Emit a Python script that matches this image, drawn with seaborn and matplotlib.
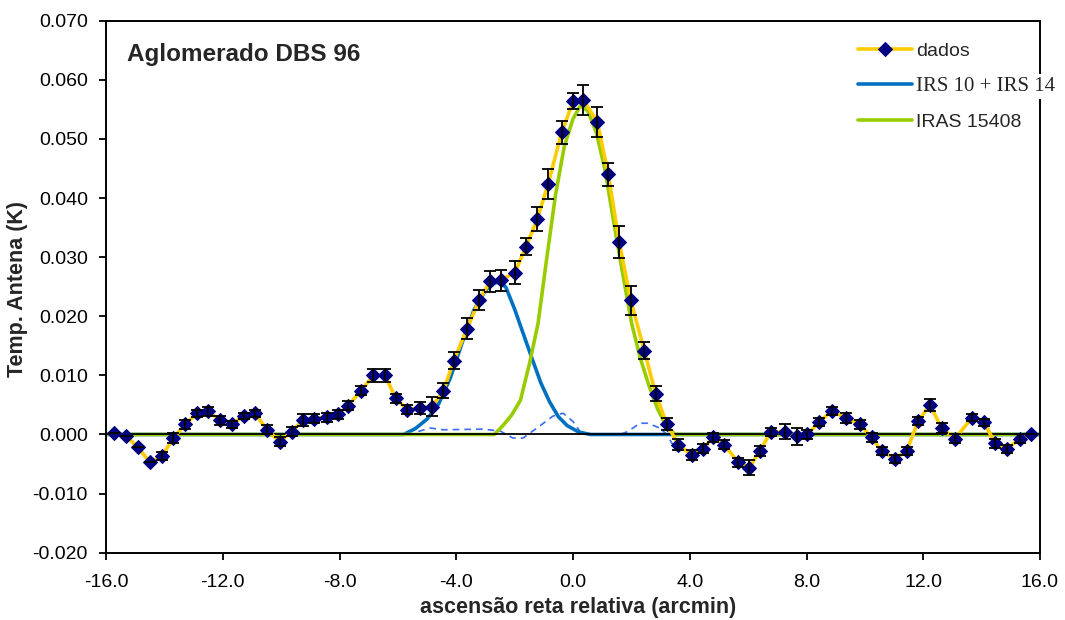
import matplotlib
matplotlib.use("Agg")
import matplotlib.pyplot as plt
from matplotlib.ticker import FormatStrFormatter
import seaborn as sns
import pandas as pd

# ---- data ----
pos = [-15.73, -15.31, -14.91, -14.49, -14.09, -13.69, -13.29, -12.87, -12.50, -12.09,
       -11.69, -11.27, -10.90, -10.49, -10.04, -9.64, -9.26, -8.87, -8.44, -8.04,
       -7.70, -7.27, -6.84, -6.44, -6.07, -5.69, -5.24, -4.83, -4.44, -4.08,
       -3.63, -3.22, -2.84, -2.47, -1.99, -1.61, -1.23, -0.85, -0.39, 0.01,
       0.35, 0.83, 1.21, 1.58, 1.98, 2.44, 2.83, 3.21, 3.61, 4.07,
       4.44, 4.81, 5.18, 5.66, 6.04, 6.40, 6.77, 7.26, 7.66, 8.03,
       8.44, 8.86, 9.35, 9.83, 10.23, 10.57, 11.03, 11.43, 11.83, 12.23,
       12.63, 13.09, 13.66, 14.08, 14.46, 14.88, 15.31, 15.68]
temp = [0.0002, -0.0002, -0.0022, -0.0047, -0.0037, -0.0006, 0.0017, 0.0036, 0.0039, 0.0024,
        0.0017, 0.0032, 0.0036, 0.0008, -0.0012, 0.0005, 0.0024, 0.0027, 0.0029, 0.0034,
        0.0049, 0.0074, 0.0100, 0.0100, 0.0061, 0.0042, 0.0045, 0.0047, 0.0074, 0.0125,
        0.0179, 0.0227, 0.0259, 0.0261, 0.0274, 0.0318, 0.0364, 0.0424, 0.0511, 0.0564,
        0.0566, 0.0529, 0.0440, 0.0326, 0.0227, 0.0142, 0.0069, 0.0018, -0.0017, -0.0035,
        -0.0024, -0.0005, -0.0017, -0.0047, -0.0056, -0.0028, 0.0004, 0.0005, -0.0003, 0.0000,
        0.0021, 0.0040, 0.0028, 0.0017, -0.0005, -0.0028, -0.0041, -0.0028, 0.0023, 0.0050,
        0.0011, -0.0007, 0.0028, 0.0021, -0.0015, -0.0024, -0.0007, 0.0000]
err = [0, 0, 0, 0, 0.0007, 0.0008, 0.0008, 0.0006, 0.0008, 0.0008,
       0.0006, 0.0005, 0.0006, 0.0008, 0.0008, 0.0008, 0.0010, 0.0008, 0.0008, 0.0008,
       0.0008, 0.0008, 0.0011, 0.0011, 0.0008, 0.0008, 0.0010, 0.0016, 0.0013, 0.0014,
       0.0018, 0.0017, 0.0018, 0.0018, 0.0019, 0.0014, 0.0020, 0.0025, 0.0020, 0.0014,
       0.0025, 0.0025, 0.0019, 0.0027, 0.0025, 0.0014, 0.0013, 0.0010, 0.0010, 0.0008,
       0.0008, 0.0007, 0.0007, 0.0008, 0.0012, 0.0008, 0.0007, 0.0013, 0.0014, 0.0008,
       0.0007, 0.0007, 0.0008, 0.0007, 0.0007, 0.0007, 0.0007, 0.0007, 0.0007, 0.0010,
       0.0008, 0.0007, 0.0006, 0.0006, 0.0008, 0.0007, 0.0007, 0]

irs_x = [-16.0, -5.8, -5.4, -5.0, -4.6, -4.2, -3.8, -3.4, -3.0, -2.7, -2.5, -2.3, -2.0,
         -1.7, -1.4, -1.1, -0.8, -0.5, -0.2, 0.2, 0.6, 16.0]
irs_y = [0, 0.0, 0.0010, 0.0026, 0.0052, 0.0096, 0.0155, 0.0210, 0.0244, 0.0256, 0.0258,
         0.0249, 0.0212, 0.0170, 0.0128, 0.0087, 0.0055, 0.0030, 0.0015, 0.0004, 0.0, 0]

iras_x = [-16.0, -2.7, -2.4, -2.1, -1.8, -1.5, -1.2, -0.9, -0.6, -0.3, 0.0, 0.25, 0.5,
          0.8, 1.1, 1.4, 1.7, 2.0, 2.3, 2.6, 2.9, 3.2, 3.5, 16.0]
iras_y = [0, 0.0, 0.0015, 0.0033, 0.0058, 0.0118, 0.0187, 0.0298, 0.0405, 0.0487, 0.0534,
          0.0556, 0.0548, 0.0511, 0.0447, 0.0358, 0.0273, 0.0190, 0.0130, 0.0083, 0.0043,
          0.0014, 0.0, 0]

res_x = [-5.3, -4.9, -4.45, -3.1, -2.5, -2.06, -1.71, -1.23, -0.69, -0.34, 0.0, 0.24, 0.58,
         1.61, 1.88, 2.29, 2.56, 2.97, 3.21, 3.39, 3.66]
res_y = [0.0005, 0.0011, 0.0008, 0.0009, 0.0006, -0.0006, -0.0006, 0.0011, 0.0031, 0.0036,
         0.0022, 0.0005, 0.0, 0.0, 0.0005, 0.0019, 0.0019, 0.0011, 0.0, -0.0015, -0.0020]

x_ticks = [-16, -12, -8, -4, 0, 4, 8, 12, 16]
y_ticks = [-0.02, -0.01, 0.0, 0.01, 0.02, 0.03, 0.04, 0.05, 0.06, 0.07]

title = "Aglomerado DBS 96"
label_data = "dados"
label_irs = "IRS 10 + IRS 14"
label_iras = "IRAS 15408"
xlabel = "ascensão reta relativa (arcmin)"
ylabel = "Temp. Antena (K)"

# ---- style ----
sns.set_style("white")
plt.rcParams["font.family"] = ["Liberation Sans", "DejaVu Sans"]
plt.rcParams["axes.unicode_minus"] = False

YELLOW = "#FFCC00"
NAVY = "#000080"
BLUE = "#0070C0"
GREEN = "#99CC00"
DASH = "#3A6CF0"

fig = plt.figure(figsize=(10.65, 6.2), dpi=100)
ax = fig.add_axes([106 / 1065, 1 - 552.7 / 620, 934 / 1065, 532 / 620])

df = pd.DataFrame({"pos": pos, "temp": temp, "err": err})
irs = pd.DataFrame({"x": irs_x, "y": irs_y})
iras = pd.DataFrame({"x": iras_x, "y": iras_y})
res = pd.DataFrame({"x": res_x, "y": res_y})

# zero line
ax.axhline(0, color="black", lw=1.3, zorder=2.2)

# residual dashed line
sns.lineplot(data=res, x="x", y="y", ax=ax, color=DASH, lw=1.2, dashes=False,
             linestyle=(0, (4, 3)), sort=False, estimator=None, label="_nolegend_",
             zorder=1.8)

# components
sns.lineplot(data=irs, x="x", y="y", ax=ax, color=BLUE, lw=2.6, sort=False,
             estimator=None, label=label_irs, zorder=2.0)
sns.lineplot(data=iras, x="x", y="y", ax=ax, color=GREEN, lw=2.6, sort=False,
             estimator=None, label=label_iras, zorder=2.1)

# data
sns.lineplot(data=df, x="pos", y="temp", ax=ax, color=YELLOW, lw=2.6, marker="D",
             markersize=7.5, markerfacecolor=NAVY, markeredgecolor=NAVY,
             sort=False, estimator=None, label=label_data, zorder=3)
ax.errorbar(df["pos"], df["temp"], yerr=df["err"], fmt="none", ecolor="black",
            elinewidth=1.3, capsize=4.5, capthick=1.3, zorder=3.5)

# axes
ax.set_xlim(-16, 16)
ax.set_ylim(-0.02, 0.07)
ax.set_xticks(x_ticks)
ax.set_yticks(y_ticks)
ax.xaxis.set_major_formatter(FormatStrFormatter("%.1f"))
ax.yaxis.set_major_formatter(FormatStrFormatter("%.3f"))
ax.tick_params(axis="both", which="major", direction="out", length=5, width=1.3,
               color="black", labelsize=14, labelcolor="black", bottom=True, left=True)
ax.tick_params(axis="x", pad=10)
ax.tick_params(axis="y", pad=8)
for s in ax.spines.values():
    s.set_color("black")
    s.set_linewidth(1.4)
ax.grid(False)

ax.set_xlabel(xlabel, fontsize=15.5, fontweight="bold")
ax.set_ylabel(ylabel, fontsize=15.5, fontweight="bold")
ax.xaxis.set_label_coords((578 - 106) / 934, (552.7 - 607) / 532)
ax.xaxis.label.set_va("center")
ax.yaxis.set_label_coords((18 - 106) / 934, (552.7 - 289) / 532)
ax.yaxis.label.set_va("center")

ax.text((127 - 106) / 934, (552.7 - 55) / 532, title, transform=ax.transAxes,
        ha="left", va="center", fontsize=17.5, fontweight="bold")

# legend in order: dados, IRS, IRAS
handles, labels = ax.get_legend_handles_labels()
order = [labels.index(label_data), labels.index(label_irs), labels.index(label_iras)]
leg = ax.legend([handles[i] for i in order], [labels[i] for i in order],
                loc="upper left", bbox_to_anchor=((858 - 106) / 934, (552.7 - 42) / 532),
                frameon=False, fontsize=14, handlelength=2.8, handletextpad=0.2,
                labelspacing=0.9, borderpad=0, borderaxespad=0)
t_irs = leg.get_texts()[1]
t_irs.set_fontfamily(["Liberation Serif", "DejaVu Serif"])
t_irs.set_fontsize(15)
t_irs.set_bbox(dict(facecolor="white", edgecolor="none", pad=2))
leg.set_zorder(10)

fig.savefig("out.png", dpi=100, facecolor="white")
